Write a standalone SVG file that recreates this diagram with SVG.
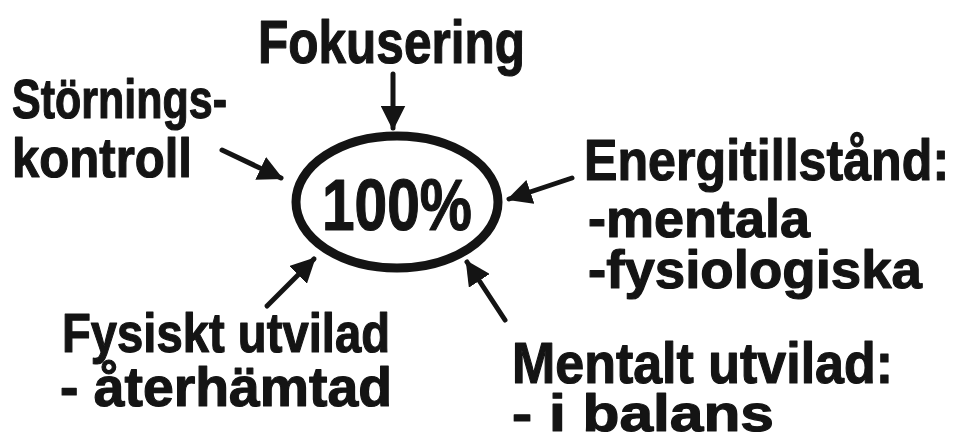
<svg xmlns="http://www.w3.org/2000/svg" width="959" height="442" viewBox="0 0 959 442">
<style>
.t{font-family:"Liberation Sans","DejaVu Sans",sans-serif;font-weight:bold;fill:#141414;stroke:#141414;stroke-width:1.2;stroke-linejoin:round}
.c{stroke:#141414;stroke-width:5;stroke-linecap:round;fill:none}
</style>
<defs>
<marker id="ah" viewBox="0 0 10 10" refX="9" refY="5" markerWidth="5" markerHeight="5" orient="auto" markerUnits="strokeWidth">
<path d="M0,0 L10,5 L0,10 Z" fill="#141414"/>
</marker>
</defs>
<rect width="959" height="442" fill="#fff"/>
<g id="center">
<ellipse cx="397" cy="202" rx="101" ry="66" fill="none" stroke="#141414" stroke-width="9"/>
<text class="t" x="397" y="230" font-size="72" text-anchor="middle" textLength="150" lengthAdjust="spacingAndGlyphs">100%</text>
</g>
<g id="fokusering">
<text class="t" x="258" y="63" font-size="62" textLength="267" lengthAdjust="spacingAndGlyphs">Fokusering</text>
</g>
<g id="storningskontroll">
<text class="t" x="12" y="118" font-size="56" textLength="215" lengthAdjust="spacingAndGlyphs">Störnings-</text>
<text class="t" x="12" y="177" font-size="56" textLength="180" lengthAdjust="spacingAndGlyphs">kontroll</text>
</g>
<g id="energitillstand">
<text class="t" transform="translate(584,180) scale(0.865,1)" x="0" y="0" font-size="58">Energitillstånd:</text>
<text class="t" x="588" y="237" font-size="54" textLength="222" lengthAdjust="spacingAndGlyphs">-mentala</text>
<text class="t" x="588" y="288" font-size="54" textLength="334" lengthAdjust="spacingAndGlyphs">-fysiologiska</text>
</g>
<g id="fysiskt">
<text class="t" x="62" y="352" font-size="56" textLength="328" lengthAdjust="spacingAndGlyphs">Fysiskt utvilad</text>
<text class="t" x="60" y="406" font-size="56" textLength="332" lengthAdjust="spacingAndGlyphs">- återhämtad</text>
</g>
<g id="mentalt">
<text class="t" x="512" y="383" font-size="58" textLength="381" lengthAdjust="spacingAndGlyphs">Mentalt utvilad:</text>
<text class="t" x="512" y="431" font-size="52" textLength="262" lengthAdjust="spacingAndGlyphs">- i balans</text>
</g>
<g id="connectors">
<line class="c" x1="393" y1="74" x2="393" y2="128" marker-end="url(#ah)"/>
<line class="c" x1="222" y1="150" x2="281" y2="178" marker-end="url(#ah)"/>
<line class="c" x1="572" y1="178" x2="509" y2="199" marker-end="url(#ah)"/>
<line class="c" x1="267" y1="306" x2="314" y2="259" marker-end="url(#ah)"/>
<line class="c" x1="505" y1="320" x2="467" y2="262" marker-end="url(#ah)"/>
</g>
</svg>
